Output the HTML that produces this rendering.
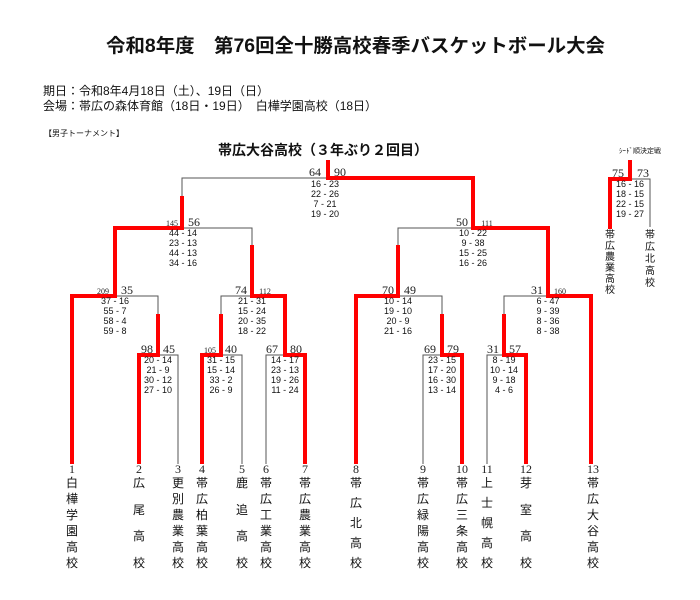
<!DOCTYPE html>
<html><head><meta charset="utf-8"><style>
body{margin:0;background:#fff;}
svg{display:block;}
text{font-family:"Liberation Sans","Noto Sans CJK JP",sans-serif;fill:#111;}
.s{font-family:"Liberation Serif","Noto Sans CJK JP",serif;font-size:9px;fill:#222;}
.n{font-family:"Liberation Serif",serif;font-size:12px;fill:#222;}
.sm{font-family:"Liberation Serif",serif;font-size:8px;fill:#222;}
.c{font-size:12px;}
.g{stroke:#555;stroke-width:1;fill:none;}
.r{stroke:#f00;stroke-width:4;fill:none;stroke-linecap:square;}
</style></head><body>
<svg width="700" height="600" viewBox="0 0 700 600" xmlns="http://www.w3.org/2000/svg">
<text x="106" y="52" font-size="19" font-weight="bold" textLength="499" lengthAdjust="spacingAndGlyphs">令和8年度　第76回全十勝高校春季バスケットボール大会</text>
<text x="43" y="95" font-size="12">期日：令和8年4月18日（土）、19日（日）</text>
<text x="43" y="110" font-size="12">会場：帯広の森体育館（18日・19日）　白樺学園高校（18日）</text>
<text x="44" y="136" font-size="8">【男子トーナメント】</text>
<text x="218" y="155" font-size="14" font-weight="bold">帯広大谷高校（３年ぶり２回目）</text>
<text x="619" y="153" font-size="7">ｼｰﾄﾞ順決定戦</text>

<g class="g">
<path d="M182 198V178H473"/>
<path d="M115 228H252V247"/>
<path d="M398 247V228H548"/>
<path d="M72 296H158V316"/>
<path d="M221 316V296H285"/>
<path d="M354 296H442V316"/>
<path d="M504 316V296H591"/>
<path d="M138 355H178V464"/>
<path d="M202 355H242V464"/>
<path d="M266 464V355H305"/>
<path d="M423 464V355H462"/>
<path d="M487 464V355H526"/>
<path d="M610 179H650V227"/>
</g>
<g class="r">
<path d="M328 162V178H473V228H548V296H591V462"/>
<path d="M182 198V228H115V296H72V462"/>
<path d="M158 316V355H139V462"/>
<path d="M252 247V296H285V355H305V462"/>
<path d="M221 316V355H202V462"/>
<path d="M398 247V296H356V462"/>
<path d="M442 316V355H462V462"/>
<path d="M504 316V355H526V462"/>
<path d="M630 162V179H610V227"/>
</g>

<text class="n" x="315" y="176" text-anchor="middle">64</text><text class="n" x="340" y="176" text-anchor="middle">90</text>
<text class="sm" x="172" y="226" text-anchor="middle">145</text><text class="n" x="194" y="226" text-anchor="middle">56</text>
<text class="n" x="462" y="226" text-anchor="middle">50</text><text class="sm" x="487" y="226" text-anchor="middle">111</text>
<text class="sm" x="103" y="294" text-anchor="middle">209</text><text class="n" x="127" y="294" text-anchor="middle">35</text>
<text class="n" x="241" y="294" text-anchor="middle">74</text><text class="sm" x="265" y="294" text-anchor="middle">112</text>
<text class="n" x="388" y="294" text-anchor="middle">70</text><text class="n" x="410" y="294" text-anchor="middle">49</text>
<text class="n" x="537" y="294" text-anchor="middle">31</text><text class="sm" x="560" y="294" text-anchor="middle">160</text>
<text class="n" x="147" y="353" text-anchor="middle">98</text><text class="n" x="169" y="353" text-anchor="middle">45</text>
<text class="sm" x="210" y="353" text-anchor="middle">105</text><text class="n" x="231" y="353" text-anchor="middle">40</text>
<text class="n" x="272" y="353" text-anchor="middle">67</text><text class="n" x="296" y="353" text-anchor="middle">80</text>
<text class="n" x="430" y="353" text-anchor="middle">69</text><text class="n" x="453" y="353" text-anchor="middle">79</text>
<text class="n" x="493" y="353" text-anchor="middle">31</text><text class="n" x="515" y="353" text-anchor="middle">57</text>
<text class="n" x="618" y="177" text-anchor="middle">75</text><text class="n" x="643" y="177" text-anchor="middle">73</text>

<g class="s">
<text x="325" y="187" text-anchor="middle">16 - 23</text><text x="325" y="197" text-anchor="middle">22 - 26</text><text x="325" y="207" text-anchor="middle">7 - 21</text><text x="325" y="217" text-anchor="middle">19 - 20</text>
<text x="183" y="236" text-anchor="middle">44 - 14</text><text x="183" y="246" text-anchor="middle">23 - 13</text><text x="183" y="256" text-anchor="middle">44 - 13</text><text x="183" y="266" text-anchor="middle">34 - 16</text>
<text x="473" y="236" text-anchor="middle">10 - 22</text><text x="473" y="246" text-anchor="middle">9 - 38</text><text x="473" y="256" text-anchor="middle">15 - 25</text><text x="473" y="266" text-anchor="middle">16 - 26</text>
<text x="115" y="304" text-anchor="middle">37 - 16</text><text x="115" y="314" text-anchor="middle">55 - 7</text><text x="115" y="324" text-anchor="middle">58 - 4</text><text x="115" y="334" text-anchor="middle">59 - 8</text>
<text x="252" y="304" text-anchor="middle">21 - 31</text><text x="252" y="314" text-anchor="middle">15 - 24</text><text x="252" y="324" text-anchor="middle">20 - 35</text><text x="252" y="334" text-anchor="middle">18 - 22</text>
<text x="398" y="304" text-anchor="middle">10 - 14</text><text x="398" y="314" text-anchor="middle">19 - 10</text><text x="398" y="324" text-anchor="middle">20 - 9</text><text x="398" y="334" text-anchor="middle">21 - 16</text>
<text x="548" y="304" text-anchor="middle">6 - 47</text><text x="548" y="314" text-anchor="middle">9 - 39</text><text x="548" y="324" text-anchor="middle">8 - 36</text><text x="548" y="334" text-anchor="middle">8 - 38</text>
<text x="158" y="363" text-anchor="middle">20 - 14</text><text x="158" y="373" text-anchor="middle">21 - 9</text><text x="158" y="383" text-anchor="middle">30 - 12</text><text x="158" y="393" text-anchor="middle">27 - 10</text>
<text x="221" y="363" text-anchor="middle">31 - 15</text><text x="221" y="373" text-anchor="middle">15 - 14</text><text x="221" y="383" text-anchor="middle">33 - 2</text><text x="221" y="393" text-anchor="middle">26 - 9</text>
<text x="285" y="363" text-anchor="middle">14 - 17</text><text x="285" y="373" text-anchor="middle">23 - 13</text><text x="285" y="383" text-anchor="middle">19 - 26</text><text x="285" y="393" text-anchor="middle">11 - 24</text>
<text x="442" y="363" text-anchor="middle">23 - 15</text><text x="442" y="373" text-anchor="middle">17 - 20</text><text x="442" y="383" text-anchor="middle">16 - 30</text><text x="442" y="393" text-anchor="middle">13 - 14</text>
<text x="504" y="363" text-anchor="middle">8 - 19</text><text x="504" y="373" text-anchor="middle">10 - 14</text><text x="504" y="383" text-anchor="middle">9 - 18</text><text x="504" y="393" text-anchor="middle">4 - 6</text>
<text x="630" y="187" text-anchor="middle">16 - 16</text><text x="630" y="197" text-anchor="middle">18 - 15</text><text x="630" y="207" text-anchor="middle">22 - 15</text><text x="630" y="217" text-anchor="middle">19 - 27</text>
</g>

<g text-anchor="middle">
<text x="72" y="473" class="n">1</text><text x="139" y="473" class="n">2</text><text x="178" y="473" class="n">3</text><text x="202" y="473" class="n">4</text><text x="242" y="473" class="n">5</text><text x="266" y="473" class="n">6</text><text x="305" y="473" class="n">7</text><text x="356" y="473" class="n">8</text><text x="423" y="473" class="n">9</text><text x="462" y="473" class="n">10</text><text x="487" y="473" class="n">11</text><text x="526" y="473" class="n">12</text><text x="593" y="473" class="n">13</text>
</g>

<g class="c" text-anchor="middle">
<text x="72" y="487">白</text><text x="72" y="503">樺</text><text x="72" y="519">学</text><text x="72" y="535">園</text><text x="72" y="551">高</text><text x="72" y="567">校</text>
<text x="139" y="487">広</text><text x="139" y="514">尾</text><text x="139" y="540">高</text><text x="139" y="567">校</text>
<text x="178" y="487">更</text><text x="178" y="503">別</text><text x="178" y="519">農</text><text x="178" y="535">業</text><text x="178" y="551">高</text><text x="178" y="567">校</text>
<text x="202" y="487">帯</text><text x="202" y="503">広</text><text x="202" y="519">柏</text><text x="202" y="535">葉</text><text x="202" y="551">高</text><text x="202" y="567">校</text>
<text x="242" y="487">鹿</text><text x="242" y="514">追</text><text x="242" y="540">高</text><text x="242" y="567">校</text>
<text x="266" y="487">帯</text><text x="266" y="503">広</text><text x="266" y="519">工</text><text x="266" y="535">業</text><text x="266" y="551">高</text><text x="266" y="567">校</text>
<text x="305" y="487">帯</text><text x="305" y="503">広</text><text x="305" y="519">農</text><text x="305" y="535">業</text><text x="305" y="551">高</text><text x="305" y="567">校</text>
<text x="356" y="487">帯</text><text x="356" y="507">広</text><text x="356" y="527">北</text><text x="356" y="547">高</text><text x="356" y="567">校</text>
<text x="423" y="487">帯</text><text x="423" y="503">広</text><text x="423" y="519">緑</text><text x="423" y="535">陽</text><text x="423" y="551">高</text><text x="423" y="567">校</text>
<text x="462" y="487">帯</text><text x="462" y="503">広</text><text x="462" y="519">三</text><text x="462" y="535">条</text><text x="462" y="551">高</text><text x="462" y="567">校</text>
<text x="487" y="487">上</text><text x="487" y="507">士</text><text x="487" y="527">幌</text><text x="487" y="547">高</text><text x="487" y="567">校</text>
<text x="526" y="487">芽</text><text x="526" y="514">室</text><text x="526" y="540">高</text><text x="526" y="567">校</text>
<text x="593" y="487">帯</text><text x="593" y="503">広</text><text x="593" y="519">大</text><text x="593" y="535">谷</text><text x="593" y="551">高</text><text x="593" y="567">校</text>
</g>
<g text-anchor="middle" font-size="10">
<text x="610" y="238">帯</text><text x="610" y="249">広</text><text x="610" y="260">農</text><text x="610" y="271">業</text><text x="610" y="282">高</text><text x="610" y="293">校</text>
<text x="650" y="238">帯</text><text x="650" y="250">広</text><text x="650" y="262">北</text><text x="650" y="274">高</text><text x="650" y="286">校</text>
</g>
</svg>
</body></html>
